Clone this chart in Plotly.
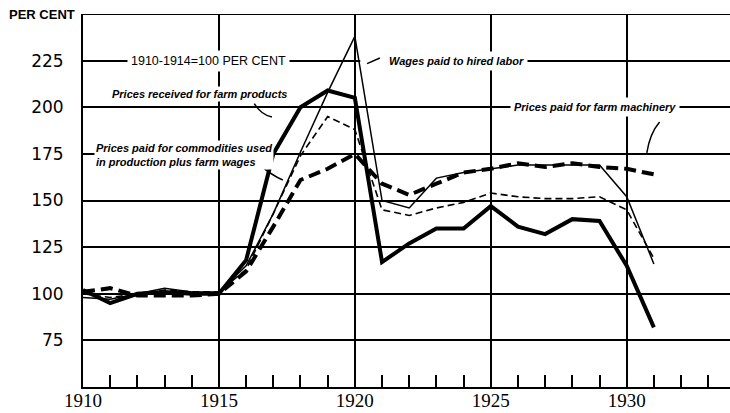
import plotly.graph_objects as go

years = list(range(1910, 1932))
prices_received = [102, 95, 100, 101, 100, 100, 118, 175, 200, 209, 205, 117, 127, 135, 135, 147, 136, 132, 140, 139, 115, 82]
wages_hired = [98, 97, 100, 103, 101, 101, 115, 143, 176, 208, 238, 150, 146, 162, 165, 167, 169, 169, 169, 169, 152, 116]
commodities_wages = [100, 98, 100, 102, 101, 101, 113, 143, 174, 195, 188, 145, 142, 146, 149, 154, 152, 151, 151, 152, 145, 119]
farm_machinery = [101, 103, 99, 99, 99, 100, 112, 136, 161, 167, 175, 159, 153, 159, 165, 167, 170, 168, 170, 168, 167, 164]

y_ticks = [75, 100, 125, 150, 175, 200, 225]
x_ticks = [1910, 1915, 1920, 1925, 1930]

fig = go.Figure()
fig.add_trace(go.Scatter(x=years, y=farm_machinery, mode="lines",
                         line=dict(color="black", width=4, dash="12px,6px")))
fig.add_trace(go.Scatter(x=years, y=commodities_wages, mode="lines",
                         line=dict(color="black", width=1.6, dash="7px,4px")))
fig.add_trace(go.Scatter(x=years, y=wages_hired, mode="lines",
                         line=dict(color="black", width=1.5)))
fig.add_trace(go.Scatter(x=years, y=prices_received, mode="lines",
                         line=dict(color="black", width=4)))

lab_font = dict(family="Liberation Sans", size=11, style="italic", weight="bold", color="black")

annotations = [
    dict(x=1914.61, y=225, text="1910-1914=100 PER CENT", showarrow=False, xanchor="center", yanchor="middle",
         font=dict(family="Liberation Sans", size=12.5, color="black"), bgcolor="white", borderpad=3),
    dict(x=1923.75, y=225, text="Wages paid to hired labor", showarrow=False, xanchor="center", yanchor="middle",
         font=lab_font, bgcolor="white", borderpad=3),
    dict(x=1914.30, y=207, text="Prices received for farm products", showarrow=False, xanchor="center", yanchor="middle",
         font=lab_font, bgcolor="white", borderpad=1),
    dict(x=1928.82, y=200, text="Prices paid for farm machinery", showarrow=False, xanchor="center", yanchor="middle",
         font=lab_font, bgcolor="white", borderpad=3),
    dict(x=1910.40, y=174.5, text="Prices paid for commodities used<br>in production plus farm wages", showarrow=False,
         xanchor="left", yanchor="middle", align="left", font=lab_font, bgcolor="white", borderpad=1),
    dict(xref="paper", yref="paper", x=-0.118, y=1.0, text="PER CENT", showarrow=False, xanchor="left", yanchor="middle",
         font=dict(family="Liberation Sans", size=13, weight="bold", color="black")),
]

shapes = [
    dict(type="line", xref="x", yref="y", x0=1910, x1=1933.8, y0=250, y1=250, line=dict(color="black", width=2)),
    dict(type="rect", xref="x", yref="y", x0=1920.2, x1=1921.2, y0=223, y1=227, fillcolor="white",
         line=dict(width=0), layer="between"),
    dict(type="line", xref="x", yref="y", x0=1920.92, y0=226.4, x1=1920.45, y1=223.4, line=dict(color="black", width=1.5)),
    dict(type="path", xref="x", yref="y", path="M 1916.3,202.0 Q 1916.55,196 1916.95,194.8",
         line=dict(color="black", width=1.5)),
    dict(type="path", xref="x", yref="y", path="M 1931.21,192.1 Q 1930.85,186 1930.74,175.5",
         line=dict(color="black", width=1.5)),
    dict(type="path", xref="x", yref="y", path="M 1916.51,169.0 Q 1916.95,163.5 1917.35,161.0",
         line=dict(color="black", width=1.5)),
]

fig.update_layout(
    width=730, height=413,
    margin=dict(l=83, r=0, t=14, b=26),
    paper_bgcolor="white", plot_bgcolor="white",
    showlegend=False,
    annotations=annotations,
    shapes=shapes,
    xaxis=dict(range=[1910, 1933.8], tickvals=x_ticks, ticktext=[str(v) for v in x_ticks],
               showgrid=True, gridcolor="black", gridwidth=1.5,
               showline=True, linecolor="black", linewidth=2,
               ticks="inside", ticklen=12, tickwidth=1.5, tickcolor="black",
               minor=dict(dtick=1, tick0=1910, ticks="inside", ticklen=12, tickwidth=1.5, tickcolor="black", showgrid=False),
               tickfont=dict(family="Liberation Sans Narrow", size=19, color="black"),
               ticklabelstandoff=-5,
               zeroline=False, fixedrange=True, automargin=False),
    yaxis=dict(range=[50, 250], tickvals=y_ticks, ticktext=[str(v) for v in y_ticks],
               showgrid=True, gridcolor="black", gridwidth=1.5,
               showline=True, linecolor="black", linewidth=2,
               ticks="", ticklabelstandoff=14,
               tickfont=dict(family="DejaVu Sans", size=17, color="black"),
               zeroline=False, fixedrange=True, automargin=False),
)

fig.write_html("out.html", config={"displayModeBar": False},
               post_script="document.body.style.margin='0';document.body.style.overflow='hidden';")
